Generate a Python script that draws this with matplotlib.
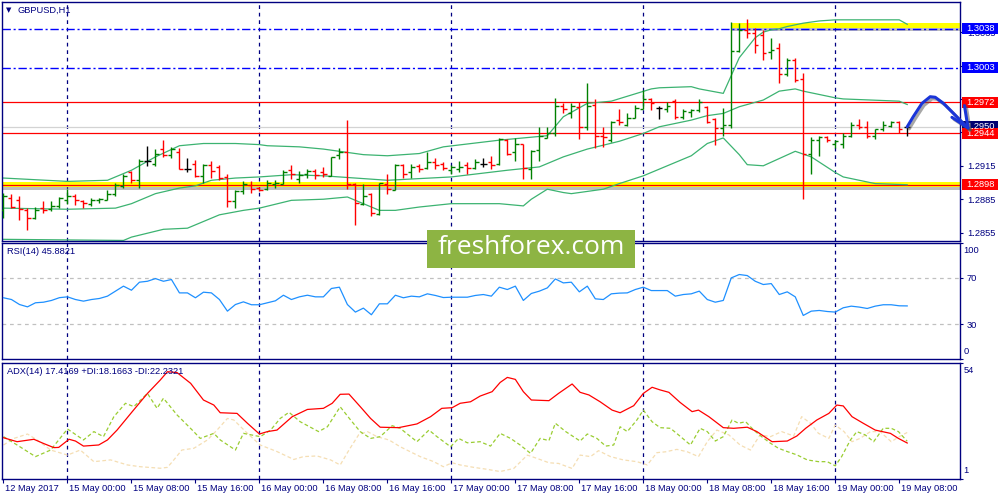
import matplotlib
matplotlib.use('Agg')
import matplotlib.pyplot as plt
import matplotlib.patheffects as pe
import matplotlib.transforms as mtransforms
from matplotlib.patches import Rectangle
import numpy as np

plt.rcParams['font.family'] = ['Liberation Sans', 'DejaVu Sans']

NAVY = '#000080'

# H1 bars, index 0 = 15 May 00:00
bar_idx = np.arange(-8, 106)
opens = [1.2875, 1.2886, 1.2884, 1.2875, 1.2868, 1.2877, 1.2876, 1.2879, 1.2884, 1.2888,
         1.2883, 1.2881, 1.2884, 1.2884, 1.2890, 1.2897, 1.2909, 1.2902, 1.2919, 1.2917,
         1.2930, 1.2925, 1.2927, 1.2912, 1.2917, 1.2906, 1.2916, 1.2914, 1.2905, 1.2883,
         1.2892, 1.2898, 1.2895, 1.2894, 1.2899, 1.2899, 1.2911, 1.2903, 1.2908, 1.2910,
         1.2909, 1.2906, 1.2925, 1.2927, 1.2899, 1.2881, 1.2890, 1.2872, 1.2899, 1.2893,
         1.2916, 1.2909, 1.2915, 1.2913, 1.2918, 1.2917, 1.2911, 1.2912, 1.2916, 1.2913,
         1.2917, 1.2918, 1.2917, 1.2938, 1.2927, 1.2935, 1.2912, 1.2929, 1.2940, 1.2944,
         1.2969, 1.2962, 1.2968, 1.2950, 1.2970, 1.2942, 1.2938, 1.2956, 1.2952, 1.2958,
         1.2966, 1.2975, 1.2967, 1.2966, 1.2973, 1.2959, 1.2963, 1.2965, 1.2968, 1.2957,
         1.2949, 1.2952, 1.3018, 1.3037, 1.3034, 1.3032, 1.3017, 1.3021, 1.2997, 1.3010,
         1.2993, 1.2926, 1.2938, 1.2941, 1.2935, 1.2935, 1.2942, 1.2952, 1.2950, 1.2942,
         1.2948, 1.2951, 1.2954, 1.2950]
highs = [1.2891, 1.2890, 1.2888, 1.2877, 1.2878, 1.2883, 1.2883, 1.2887, 1.2894, 1.2890,
         1.2884, 1.2886, 1.2886, 1.2893, 1.2900, 1.2908, 1.2910, 1.2921, 1.2933, 1.2930,
         1.2938, 1.2932, 1.2931, 1.2922, 1.2920, 1.2917, 1.2919, 1.2916, 1.2908, 1.2893,
         1.2901, 1.2901, 1.2896, 1.2902, 1.2902, 1.2911, 1.2916, 1.2910, 1.2912, 1.2912,
         1.2914, 1.2923, 1.2931, 1.2956, 1.2900, 1.2899, 1.2891, 1.2900, 1.2908, 1.2917,
         1.2917, 1.2917, 1.2917, 1.2927, 1.2922, 1.2918, 1.2916, 1.2919, 1.2918, 1.2921,
         1.2922, 1.2924, 1.2940, 1.2939, 1.2940, 1.2935, 1.2929, 1.2950, 1.2950, 1.2976,
         1.2971, 1.2971, 1.2972, 1.2989, 1.2975, 1.2950, 1.2955, 1.2966, 1.2962, 1.2970,
         1.2983, 1.2976, 1.2969, 1.2972, 1.2975, 1.2966, 1.2966, 1.2975, 1.2969, 1.2958,
         1.2967, 1.3044, 1.3043, 1.3047, 1.3039, 1.3037, 1.3030, 1.3025, 1.3012, 1.3012,
         1.2998, 1.2941, 1.2942, 1.2942, 1.2938, 1.2944, 1.2954, 1.2957, 1.2955, 1.2948,
         1.2955, 1.2955, 1.2955, 1.2950]
lows = [1.2868, 1.2877, 1.2866, 1.2857, 1.2867, 1.2873, 1.2874, 1.2877, 1.2881, 1.2880,
        1.2877, 1.2879, 1.2882, 1.2884, 1.2888, 1.2895, 1.2900, 1.2895, 1.2915, 1.2915,
        1.2923, 1.2922, 1.2912, 1.2909, 1.2905, 1.2900, 1.2904, 1.2902, 1.2878, 1.2877,
        1.2890, 1.2891, 1.2892, 1.2893, 1.2895, 1.2899, 1.2903, 1.2900, 1.2904, 1.2903,
        1.2905, 1.2906, 1.2921, 1.2894, 1.2862, 1.2880, 1.2870, 1.2871, 1.2890, 1.2893,
        1.2904, 1.2904, 1.2909, 1.2912, 1.2912, 1.2911, 1.2908, 1.2909, 1.2908, 1.2912,
        1.2914, 1.2912, 1.2916, 1.2925, 1.2919, 1.2903, 1.2903, 1.2919, 1.2940, 1.2942,
        1.2962, 1.2958, 1.2939, 1.2947, 1.2931, 1.2932, 1.2936, 1.2952, 1.2951, 1.2958,
        1.2966, 1.2965, 1.2957, 1.2963, 1.2957, 1.2957, 1.2959, 1.2963, 1.2953, 1.2934,
        1.2942, 1.2949, 1.3017, 1.3030, 1.3016, 1.3010, 1.3011, 1.2989, 1.2996, 1.2990,
        1.2885, 1.2908, 1.2924, 1.2936, 1.2931, 1.2931, 1.2941, 1.2948, 1.2940, 1.2939,
        1.2946, 1.2950, 1.2944, 1.2942]
closes = [1.2888, 1.2878, 1.2876, 1.2868, 1.2875, 1.2875, 1.2879, 1.2886, 1.2888, 1.2884,
          1.2882, 1.2884, 1.2885, 1.2890, 1.2898, 1.2906, 1.2902, 1.2919, 1.2919, 1.2926,
          1.2925, 1.2930, 1.2912, 1.2912, 1.2906, 1.2916, 1.2910, 1.2904, 1.2883, 1.2892,
          1.2899, 1.2894, 1.2893, 1.2900, 1.2900, 1.2909, 1.2908, 1.2907, 1.2910, 1.2907,
          1.2908, 1.2923, 1.2927, 1.2899, 1.2882, 1.2888, 1.2873, 1.2900, 1.2894, 1.2916,
          1.2908, 1.2914, 1.2912, 1.2918, 1.2916, 1.2913, 1.2914, 1.2914, 1.2913, 1.2918,
          1.2917, 1.2916, 1.2939, 1.2926, 1.2935, 1.2913, 1.2928, 1.2942, 1.2944, 1.2969,
          1.2966, 1.2969, 1.2950, 1.2969, 1.2942, 1.2941, 1.2954, 1.2954, 1.2958, 1.2967,
          1.2975, 1.2971, 1.2967, 1.2969, 1.2959, 1.2964, 1.2965, 1.2972, 1.2954, 1.2949,
          1.2952, 1.3018, 1.3037, 1.3034, 1.3023, 1.3016, 1.3019, 1.2997, 1.3010, 1.2992,
          1.2926, 1.2938, 1.2941, 1.2938, 1.2937, 1.2942, 1.2952, 1.2950, 1.2942, 1.2948,
          1.2952, 1.2954, 1.2948, 1.2950]

# Bollinger bands (sampled along the chart)
bb_up_x = [-8, 0, 5, 8, 11, 14, 17, 21, 24, 25, 29, 32, 34, 37, 40, 44, 47, 54, 60, 62,
           65, 68, 73, 74, 78, 79, 82, 83, 84, 85, 86, 87, 88, 89, 90, 92, 94, 96, 104, 105]
bb_up = [1.2904, 1.2901, 1.2902, 1.2911, 1.2923, 1.2933, 1.2935, 1.2935, 1.2934, 1.2933,
         1.2932, 1.2930, 1.2928, 1.2925, 1.2924, 1.2926, 1.2932, 1.2938, 1.2942, 1.2959,
         1.2971, 1.2973, 1.2984, 1.2985, 1.2986, 1.2984, 1.2980, 1.2996, 1.3012, 1.3021,
         1.3030, 1.3035, 1.3037, 1.3038, 1.3040, 1.3043, 1.3045, 1.3046, 1.3046, 1.3042]
bb_mid_x = [-8, 0, 6, 8, 11, 14, 16, 18, 21, 24, 28, 32, 40, 48, 55, 59, 62, 65, 69, 72,
            74, 78, 80, 82, 84, 87, 89, 91, 92, 96, 97, 104, 105]
bb_mid = [1.2877, 1.2876, 1.2877, 1.2881, 1.2890, 1.2895, 1.2897, 1.2902, 1.2904, 1.2905,
          1.2907, 1.2906, 1.2902, 1.2905, 1.2911, 1.2914, 1.2923, 1.2930, 1.2937, 1.2944,
          1.2950, 1.2956, 1.2960, 1.2962, 1.2968, 1.2974, 1.2982, 1.2984, 1.2982, 1.2976,
          1.2975, 1.2973, 1.2970]
bb_low_x = [-8, 7, 8, 12, 15, 19, 22, 24, 28, 32, 35, 37, 39, 41, 44, 48, 54, 57, 58, 60,
            62, 63, 67, 69, 72, 74, 78, 80, 82, 84, 85, 87, 91, 93, 96, 97, 101, 105]
bb_low = [1.2849, 1.2848, 1.2851, 1.2858, 1.2859, 1.2871, 1.2875, 1.2877, 1.2884, 1.2885,
          1.2887, 1.2881, 1.2875, 1.2875, 1.2878, 1.2881, 1.2881, 1.2879, 1.2885, 1.2894,
          1.2891, 1.2890, 1.2894, 1.2899, 1.2906, 1.2912, 1.2924, 1.2935, 1.2940, 1.2925,
          1.2916, 1.2915, 1.2928, 1.2923, 1.2909, 1.2905, 1.2899, 1.2898]

rsi = [52.9, 51.4, 47.1, 45.1, 48.6, 49.1, 50.6, 53.0, 53.7, 51.4,
       50.0, 51.4, 52.3, 54.3, 58.6, 62.9, 59.4, 66.3, 67.1, 69.4,
       67.1, 68.6, 57.1, 57.1, 52.9, 57.7, 57.1, 51.4, 41.4, 47.1,
       49.4, 46.9, 46.9, 48.6, 50.3, 55.1, 51.4, 53.7, 55.1, 53.7,
       53.7, 60.9, 62.0, 47.1, 40.6, 44.0, 38.3, 47.7, 47.7, 55.1,
       52.9, 54.3, 53.7, 56.3, 54.9, 53.1, 53.4, 53.4, 53.4, 54.9,
       55.7, 54.3, 62.0, 60.0, 62.9, 50.6, 56.6, 58.6, 61.4, 69.1,
       65.7, 66.3, 58.0, 62.9, 52.0, 51.4, 56.3, 56.9, 57.1, 60.0,
       62.0, 59.1, 59.1, 59.1, 54.3, 55.7, 56.3, 58.6, 51.4, 49.1,
       50.6, 70.0, 72.9, 72.0, 67.1, 64.3, 65.1, 55.7, 58.0, 53.7,
       37.7, 41.4, 42.0, 41.1, 40.6, 44.3, 45.7, 44.9, 43.7, 45.7,
       46.9, 46.9, 46.0, 45.9]

adx_x = [-8, -6.3, -4.2, -3, -1.7, -1.1, 0.2, 1, 2, 3.9, 5, 6.2, 8.1, 10, 11.6, 12.5, 13.7,
         15.4, 17, 18.3, 19.1, 21.2, 22.5, 24, 25, 26.2, 28.1, 30, 32, 33.1, 34.1, 35.2,
         36.6, 37.9, 39.1, 41.4, 43.7, 45.4, 46.8, 48.1, 49.1, 50.4, 51.6, 53.1, 54.1, 55,
         56, 57, 58, 60.2, 61.4, 63.1, 64.1, 65.2, 66.6, 68.1, 69.1, 70.8, 72, 73.1, 74.1,
         75.2, 76.6, 78.1, 78.9, 80.2, 82, 83.3, 85, 86.2, 88.1, 90, 91.2, 92.3, 93.7, 95.2,
         96.2, 97, 98.1, 99.5, 101, 102.9, 103.9, 105]
adx = [19.8, 18.0, 19.1, 17.2, 15.3, 15.4, 19.1, 18.3, 16.0, 16.5, 18.8, 23.3, 31.7, 40.0,
       46.1, 49.9, 49.5, 44.6, 37.0, 34.7, 31.2, 30.9, 26.4, 21.5, 22.6, 23.3, 29.4, 32.7,
       33.2, 35.5, 39.6, 39.7, 34.0, 28.6, 24.6, 24.4, 26.1, 29.4, 33.2, 33.5, 35.5, 36.2,
       38.8, 40.8, 45.0, 47.3, 46.4, 40.8, 37.0, 36.7, 40.0, 44.3, 40.5, 39.3, 36.2, 32.4,
       31.2, 34.4, 40.0, 42.8, 41.6, 40.5, 35.9, 31.7, 32.4, 29.4, 24.4, 24.1, 24.6, 22.6,
       18.0, 18.3, 20.6, 24.1, 27.9, 30.9, 34.7, 34.3, 29.4, 26.4, 23.3, 21.8, 19.5, 17.4]
pdi_x = [-8, -6.3, -4, -2.1, 0, 2, 3.3, 4.5, 5.8, 7.25, 8.3, 10, 11.2, 12, 13.7, 15.6, 16.6,
         18.3, 19.1, 21, 22, 24.1, 25.4, 26.6, 27.7, 29.1, 31.4, 32.5, 34.1, 35.4, 36.6,
         37.9, 39.1, 40.6, 41.6, 43.7, 45.2, 46.2, 47.9, 48.9, 50, 51.6, 52.9, 54.1, 55.4,
         56.6, 57.9, 59.1, 60.2, 61, 62.3, 64.1, 65, 66.2, 67.3, 68.3, 69.1, 70, 71.2, 72,
         73.1, 74.1, 75.4, 76.4, 77.9, 79.1, 80, 81, 82, 83.1, 83.9, 84.8, 85.8, 86.8, 87.9,
         88.9, 90, 91.2, 92.5, 93.9, 95, 96, 96.8, 97.9, 98.7, 99.75, 100.8, 102, 103,
         103.9, 105]
pdi = [20.3, 16.5, 11.2, 14.2, 23.8, 18.8, 22.6, 20.3, 29.4, 35.5, 34.0, 40.0, 33.2, 37.8,
       30.2, 23.3, 19.5, 21.8, 18.8, 14.2, 21.8, 20.3, 23.3, 28.6, 31.4, 27.1, 22.6, 24.8,
       33.9, 27.9, 22.6, 19.5, 20.3, 25.3, 24.1, 18.0, 23.3, 20.3, 15.7, 19.5, 17.5, 18.0,
       16.0, 21.8, 19.5, 16.5, 12.7, 19.5, 18.5, 26.4, 22.6, 18.3, 21.5, 19.5, 16.0, 16.5,
       24.8, 22.6, 27.9, 32.4, 27.1, 24.4, 24.1, 21.1, 16.5, 24.1, 22.6, 18.3, 20.3, 27.9,
       26.4, 27.1, 23.3, 20.3, 17.3, 15.0, 13.5, 12.0, 9.7, 8.9, 8.9, 7.0, 11.2, 18.8, 22.6,
       21.1, 18.0, 24.1, 24.1, 22.6, 18.2]
mdi_x = [-8, -6.7, -5, -3.8, -2.1, 0, 1.6, 3.3, 5.4, 7.5, 9.1, 11.6, 12.5, 13.3, 14.3, 15.8,
         17.5, 18.7, 20, 20.8, 22.5, 24.1, 26.2, 28.3, 29.5, 31.2, 32.9, 34.1, 35.2, 36.4,
         37.5, 38.7, 40.2, 41.6, 44.1, 45.8, 47, 48.1, 49.1, 50.8, 52.5, 54.1, 55.8, 57.5,
         58.7, 60.2, 61.4, 63.1, 64.1, 65.4, 66.4, 67.9, 69.5, 71.2, 72.5, 73.7, 74.8, 76.2,
         77.5, 78.9, 80, 81.2, 82.7, 84.1, 85.4, 86.6, 87.9, 89.3, 90.8, 91.8, 92.9, 93.9,
         95.2, 96, 97.1, 98.1, 99.1, 100.4, 101.6, 103, 104, 105]
mdi = [16.5, 19.5, 21.5, 18.8, 14.2, 11.9, 14.2, 8.9, 9.7, 7.4, 6.6, 5.9, 6.3, 9.7, 14.2,
       15.0, 18.8, 23.3, 28.6, 27.9, 21.8, 16.5, 13.5, 9.9, 11.2, 11.5, 9.7, 7.4, 14.2, 21.1,
       22.6, 20.3, 18.8, 15.7, 11.2, 8.9, 6.6, 8.4, 7.4, 6.3, 5.4, 4.4, 5.8, 11.9, 10.4, 8.4,
       8.1, 5.8, 11.9, 11.2, 13.9, 11.2, 9.7, 8.9, 7.4, 13.0, 13.4, 14.5, 13.4, 11.2, 18.0,
       23.3, 21.1, 16.5, 14.2, 21.1, 20.3, 22.6, 20.6, 29.4, 26.4, 21.8, 19.5, 25.6, 22.6,
       18.0, 19.5, 22.6, 22.6, 18.0, 20.3, 22.2]

date_pos = [-8, 0, 8, 16, 24, 32, 40, 48, 56, 64, 72, 80, 88, 96, 104]
date_labels = ['12 May 2017', '15 May 00:00', '15 May 08:00', '15 May 16:00', '16 May 00:00',
               '16 May 08:00', '16 May 16:00', '17 May 00:00', '17 May 08:00', '17 May 16:00',
               '18 May 00:00', '18 May 08:00', '18 May 16:00', '19 May 00:00', '19 May 08:00']
day_lines = [0, 24, 48, 72, 96]
price_ticks = [1.2855, 1.2885, 1.2915, 1.2945, 1.2975, 1.3005, 1.3035]
# labels of 1.2945 / 1.2975 / 1.3005 sit under the price tags, only the marks show
price_tick_labels = ['1.2855', '1.2885', '1.2915', '', '', '', '1.3035']

red_levels = [1.2972, 1.2944, 1.2898]
blue_levels = [1.3038, 1.3003]
bid = 1.2950
price_tags = [(1.3038, '#0000ff'), (1.3003, '#0000ff'), (1.2972, '#ff0000'),
              (1.2950, '#000070'), (1.2944, '#ff0000'), (1.2898, '#ff0000')]

# hand drawn forecast arrow
arrow_x = [105, 105.75, 106.84, 107.875, 108.5, 109.54, 110.79, 111.6, 112.6]
arrow_y = [1.2950, 1.2959, 1.2971, 1.2977, 1.29765, 1.2971, 1.2962, 1.2956, 1.2949]
barb_x = [112.16, 110.59]
barb_y = [1.2969, 1.29585]

W, H = 1000, 500
fig = plt.figure(figsize=(W / 100, H / 100), dpi=100)
fig.patch.set_facecolor('white')
AX_W = 960 - 2.3


def add_panel(top, bottom):
    a = fig.add_axes([2.3 / W, 1 - bottom / H, AX_W / W, (bottom - top) / H])
    a.set_xlim(-8.15, 111.6)
    for s in a.spines.values():
        s.set_color(NAVY)
        s.set_linewidth(1.0)
    a.yaxis.tick_right()
    a.tick_params(axis='y', direction='out', length=2.5, width=0.8, color=NAVY,
                  labelcolor=NAVY, labelsize=6.7, pad=2.5)
    a.set_xticks([])
    for d in day_lines:
        a.axvline(d, color=NAVY, lw=0.9, ls=(0, (3, 3)), zorder=1)
    return a


ax = add_panel(2, 241)
ax_rsi = add_panel(243, 359.3)
ax_adx = add_panel(362.7, 479)

# ---- main price panel ----
ax.set_ylim(1.28475, 1.3062)
ax.set_yticks(price_ticks)
ax.set_yticklabels(price_tick_labels)

ax.plot([83, 112], [1.3041, 1.3041], color='#ffff00', lw=3.6, zorder=2, solid_capstyle='butt',
        path_effects=[pe.SimpleLineShadow(offset=(0, -2.2), shadow_color='#707070', alpha=0.45),
                      pe.Normal()])
ax.plot([-9, 112], [1.2899, 1.2899], color='#ffff00', lw=3.6, zorder=2, solid_capstyle='butt',
        path_effects=[pe.SimpleLineShadow(offset=(0, -2.2), shadow_color='#707070', alpha=0.45),
                      pe.Normal()])

for lv in blue_levels:
    ax.axhline(lv, color='#0000ff', lw=1.0, ls=(0, (6, 2, 1.5, 2)), zorder=2.2)
for lv in red_levels:
    ax.axhline(lv, color='#ff0000', lw=0.9, zorder=2.2)
ax.axhline(bid, color='#d3d3d3', lw=0.9, zorder=2.1)

ax.plot(bb_up_x, bb_up, color='#3cb371', lw=0.9, zorder=2.5)
ax.plot(bb_mid_x, bb_mid, color='#3cb371', lw=0.9, zorder=2.5)
ax.plot(bb_low_x, bb_low, color='#3cb371', lw=0.9, zorder=2.5)

o = np.array(opens)
c = np.array(closes)
bar_colors = ['#008000' if cc > oo else '#ff0000' if cc < oo else 'black' for oo, cc in zip(o, c)]
ax.vlines(bar_idx, lows, highs, colors=bar_colors, lw=1.0, zorder=4)
ax.hlines(o, bar_idx - 0.4, bar_idx, colors=bar_colors, lw=1.0, zorder=4)
ax.hlines(c, bar_idx, bar_idx + 0.4, colors=bar_colors, lw=1.0, zorder=4)

# price tags on the right scale
tag_tr = mtransforms.blended_transform_factory(ax.transAxes, ax.transData)
for price, col in price_tags:
    ax.add_patch(Rectangle((1 + 2.3 / AX_W, price - 0.00048), 36 / AX_W, 0.00096,
                           transform=tag_tr, facecolor=col, edgecolor='none',
                           clip_on=False, zorder=6))
    ax.text(1 + 6.5 / AX_W, price, '%.4f' % price, transform=tag_tr, color='white',
            fontsize=6.7, ha='left', va='center', clip_on=False, zorder=7)

shadow = [pe.SimpleLineShadow(offset=(1.5, -1.5), shadow_color='#505050', alpha=0.5), pe.Normal()]
ax.plot(arrow_x, arrow_y, color='#1a35d8', lw=2.2, clip_on=False, zorder=9,
        solid_capstyle='round', solid_joinstyle='round', path_effects=shadow)
for bx, by in zip(barb_x, barb_y):
    ax.plot([bx, arrow_x[-1]], [by, arrow_y[-1]], color='#1a35d8', lw=2.2, clip_on=False,
            zorder=9, solid_capstyle='round', path_effects=shadow)

# ---- RSI panel ----
ax_rsi.set_ylim(0, 100)
ax_rsi.set_yticks([0, 30, 70, 100])
ax_rsi.set_yticklabels(['', '30', '70', ''])
for lv in (30, 70):
    ax_rsi.axhline(lv, color='#c0c0c0', lw=0.9, ls=(0, (3, 3)), zorder=1)
ax_rsi.plot(bar_idx, rsi, color='#1e90ff', lw=0.9, zorder=3)
rsi_tr = mtransforms.blended_transform_factory(ax_rsi.transAxes, ax_rsi.transData)
ax_rsi.text(1 + 3.5 / AX_W, 97, '100', transform=rsi_tr, fontsize=6.7, color=NAVY,
            va='top', ha='left', clip_on=False)
ax_rsi.text(1 + 3.5 / AX_W, 3, '0', transform=rsi_tr, fontsize=6.7, color=NAVY,
            va='bottom', ha='left', clip_on=False)

# ---- ADX panel ----
ax_adx.set_ylim(1, 54)
ax_adx.set_yticks([1, 54])
ax_adx.set_yticklabels(['', ''])
ax_adx.plot(mdi_x, mdi, color='#f5deb3', lw=0.9, ls=(0, (3, 2)), zorder=2)
ax_adx.plot(pdi_x, pdi, color='#9acd32', lw=0.9, ls=(0, (3, 2)), zorder=2.5)
ax_adx.plot(adx_x, adx, color='#ff0000', lw=0.9, zorder=3)
adx_tr = mtransforms.blended_transform_factory(ax_adx.transAxes, ax_adx.transData)
ax_adx.text(1 + 3.5 / AX_W, 52.3, '54', transform=adx_tr, fontsize=6.7, color=NAVY,
            va='top', ha='left', clip_on=False)
ax_adx.text(1 + 3.5 / AX_W, 2.6, '1', transform=adx_tr, fontsize=6.7, color=NAVY,
            va='bottom', ha='left', clip_on=False)

ax_adx.set_xticks(date_pos)
ax_adx.set_xticklabels([])
ax_adx.tick_params(axis='x', direction='out', length=3, width=0.8, color=NAVY)
date_tr = mtransforms.blended_transform_factory(ax_adx.transData, ax_adx.transAxes)
for pos, lab in zip(date_pos, date_labels):
    ax_adx.text(pos + 0.2, -0.045, lab, transform=date_tr, fontsize=6.7, color=NAVY,
                ha='left', va='top', clip_on=False)

# ---- captions ----
fig.text(6 / W, 1 - 10.5 / H, '\u25bc', fontsize=5, color=NAVY, family='DejaVu Sans',
         va='center', ha='left')
fig.text(18 / W, 1 - 10.5 / H, 'GBPUSD,H1', fontsize=6.7, color=NAVY, va='center', ha='left')
fig.text(7 / W, 1 - 251.5 / H, 'RSI(14) 45.8821', fontsize=6.7, color=NAVY, va='center', ha='left')
fig.text(7 / W, 1 - 371 / H, 'ADX(14) 17.4169 +DI:18.1663 -DI:22.2321', fontsize=6.7,
         color=NAVY, va='center', ha='left')

# watermark
fig.patches.append(Rectangle((427 / W, 1 - 267.5 / H), 208 / W, 38 / H,
                             transform=fig.transFigure, facecolor='#8db443',
                             edgecolor='none', zorder=5))
fig.text(531 / W, 1 - 247 / H, 'freshforex.com', fontsize=19, color='white',
         family=['Open Sans', 'DejaVu Sans'], ha='center', va='center', zorder=6)

fig.savefig('out.png', dpi=100, facecolor='white')
